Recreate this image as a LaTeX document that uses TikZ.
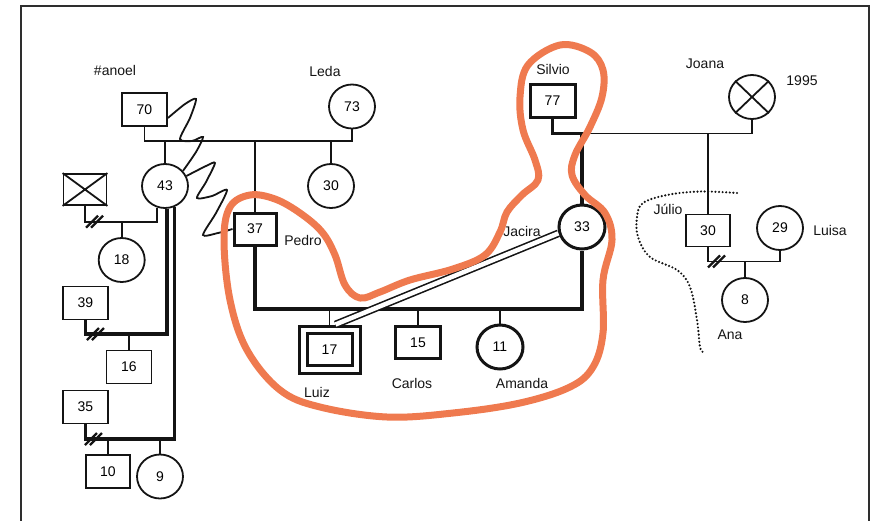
\documentclass[tikz,border=0pt]{standalone}
\usepackage{fontspec}
\setmainfont{Liberation Sans}
\usetikzlibrary{shapes.geometric}
\definecolor{contornoc}{HTML}{EF7A4F}
\definecolor{moldura}{HTML}{2E2E2E}
\definecolor{traco}{HTML}{141414}

\begin{document}
\begin{tikzpicture}[
  x=1pt, y=-1pt,
  font=\fontsize{14}{16}\selectfont,
  ligacao/.style={traco, line width=1.8pt},
  grosso/.style={traco, line width=3.2pt},
  homem/.style={draw=traco, line width=1.8pt, fill=white, inner sep=0pt,
                minimum width=45pt, minimum height=33pt},
  homemf/.style={homem, line width=3pt},
  mulher/.style={ellipse, draw=traco, line width=1.8pt, fill=white, inner sep=0pt,
                 minimum width=46pt, minimum height=44pt},
  mulherf/.style={mulher, line width=3pt},
  rotulo/.style={inner sep=1pt, text=traco},
  corte/.style={traco, line width=2.2pt},
  % a linha pontilhada que separa Júlio do resto da família
  limite/.style={traco, dash pattern=on 0pt off 3.6pt, line cap=round, line width=2.4pt},
  contorno/.style={draw=contornoc, line width=7pt, line cap=round, line join=round},
]
\useasboundingbox (0,0) rectangle (881,520);
\draw[moldura, line width=2.5pt] (21,530) -- (21,6) -- (869,6) -- (869,530);
% ---- avós
\node[homem] (manoel) at (144.5,109.5) {70};
\node[rotulo] (lmanoel) at (115,70) {\#anoel};
\node[mulher] (leda) at (352,106.5) {73};
\node[rotulo] (lleda) at (325,71) {Leda};
\node[homemf] (silvio) at (552.5,101) {77};
\node[rotulo] (lsilvio) at (553,69) {Silvio};
\node[mulher] (joana) at (752,97) {};
\node[rotulo] (ljoana) at (705,64) {Joana};
\node[rotulo] (ano) at (802,81) {1995};
\draw[ligacao] (joana.north west) -- (joana.south east)
               (joana.north east) -- (joana.south west);
% ---- filhos de #anoel e Leda
\node[mulher] (f43) at (165,186) {43};
\node[mulher] (f30) at (331,186) {30};
\node[homemf, minimum width=42pt, minimum height=32pt] (pedro) at (255,229) {37};
\node[rotulo] (lpedro) at (303,240) {Pedro};
% ---- companheiros de 43 e seus filhos
\node[homem, minimum width=43pt, minimum height=31pt] (exm) at (85,189.5) {};
\draw[ligacao] (exm.north west) -- (exm.south east)
               (exm.north east) -- (exm.south west);
\node[mulher] (f18) at (121.7,260) {18};
\node[homem] (m39) at (85.5,303) {39};
\node[homem] (m16) at (129,367) {16};
\node[homem] (m35) at (85.5,407) {35};
\node[homem, minimum width=44pt] (m10) at (108,471.5) {10};
\node[mulher] (f9) at (160,476.5) {9};
% ---- família de Pedro e Jacira
\node[mulherf] (jacira) at (582,227) {33};
\node[rotulo] (ljacira) at (522,231) {Jacira};
\node[homemf, minimum width=61pt, minimum height=47pt] (luiz) at (329.5,349.5) {};
\node[homemf, fill=none, minimum width=45pt, minimum height=32pt] (luizin) at (luiz.center) {17};
\node[rotulo] (lluiz) at (317,392) {Luiz};
\node[homem, line width=2.4pt, minimum height=32pt] (carlos) at (418,342.5) {15};
\node[rotulo] (lcarlos) at (412,383) {Carlos};
\node[mulherf] (amanda) at (500,347) {11};
\node[rotulo] (lamanda) at (522,383) {Amanda};
% ---- família de Júlio e Luisa
\node[homem, minimum width=44pt, minimum height=32pt] (julio) at (708,230.5) {30};
\node[rotulo] (ljulio) at (668,209) {Júlio};
\node[mulher] (luisa) at (780,228) {29};
\node[rotulo] (lluisa) at (830,230) {Luisa};
\node[mulher] (ana) at (745,300) {8};
\node[rotulo] (lana) at (730,335) {Ana};
% ---- linhas de casal
\coordinate (casal1) at (250,141);
\coordinate (casal2) at (420,309);
\coordinate (casal3) at (650,133.5);
\coordinate (casal4) at (745,261.5);
\coordinate (ex1) at (120,221.7);
\coordinate (ex2) at (120,334);
\coordinate (ex3) at (120,439);
\draw[ligacao] (manoel.south) |- (casal1) -| (leda.south);
\draw[ligacao] (f43.north) -- (f43.north |- casal1);
\draw[ligacao] (f30.north) -- (f30.north |- casal1);
\draw[ligacao] (pedro.north) -- (pedro.north |- casal1);
\draw[ligacao] (f43.-110) |- (ex1) -| (exm.south);
\draw[ligacao] (f18.north) -- (f18.north |- ex1);
\draw[grosso] (f43.-85) |- (ex2) -| (m39.south);
\draw[ligacao] (m16.north) -- (m16.north |- ex2);
\draw[grosso] (f43.-65) |- (ex3) -| (m35.south);
\draw[ligacao] (m10.north) -- (m10.north |- ex3);
\draw[ligacao] (f9.north) -- (f9.north |- ex3);
\draw[grosso] (silvio.south) |- (jacira.north |- casal3) -- (jacira.north);
\draw[ligacao] (jacira.north |- casal3) -| (joana.south);
\draw[ligacao] (julio.north) -- (julio.north |- casal3);
\draw[grosso] (pedro.south) |- (casal2) -| (jacira.south);
\draw[ligacao] (luiz.north) -- (luiz.north |- casal2);
\draw[ligacao] (carlos.north) -- (carlos.north |- casal2);
\draw[ligacao] (amanda.north) -- (amanda.north |- casal2);
\draw[ligacao] (julio.south) |- (casal4) -| (luisa.south);
\draw[ligacao] (ana.north) -- (casal4);
% ---- separações
\coordinate (div1) at (95,221.7);
\coordinate (div2) at (96,334);
\coordinate (div3) at (94,439);
\coordinate (div4) at (717,261.5);
\foreach \c in {div1,div2,div3,div4} {
  \draw[corte] ([shift={(-9,6)}]\c) -- ++(12,-12);
  \draw[corte] ([shift={(-4,6)}]\c) -- ++(12,-12);
}
% ---- conflitos e ligação forte
\draw[ligacao] plot[smooth, tension=0.45] coordinates {(manoel.-20) (185,104)
  (196,99) (190,118) (180,139) (192,141) (203,137) (196,152) (f43.40)};
\draw[ligacao] plot[smooth, tension=0.45] coordinates {(f43.25) (206,166)
  (215,163) (206,182) (197,198) (212,196) (227,190) (216,213) (203,235)
  (218,233) (pedro.west)};
\draw[traco, line width=1.6pt, double, double distance=4.5pt]
  ([xshift=6]luiz.north) -- (jacira.195);
% ---- limite de Júlio
\draw[limite] plot[smooth, tension=0.6] coordinates {(737,193) (700,191.5)
  (667,195) (643,203) (637,217) (638,237) (650,257) (677,270) (690,287)
  (697,320) (700,347) (703,352)};
% ---- o contorno laranja
\draw[contorno] plot[smooth cycle, tension=0.6] coordinates {(560,45) (590,52)
  (603,70) (602,97) (590,127) (575,155) (572,175) (585,195) (605,213) (612,240)
  (603,280) (603,333) (593,367) (570,387) (520,403) (453,413) (387,417)
  (320,407) (280,390) (247,350) (230,300) (224,240) (230,207) (250,195)
  (275,199) (300,213) (322,232) (335,255) (345,285) (360,298) (380,292)
  (410,280) (453,269) (485,255) (500,232) (507,212) (522,195) (538,180)
  (535,160) (523,130) (520,97) (528,65)};
\end{tikzpicture}
\end{document}
